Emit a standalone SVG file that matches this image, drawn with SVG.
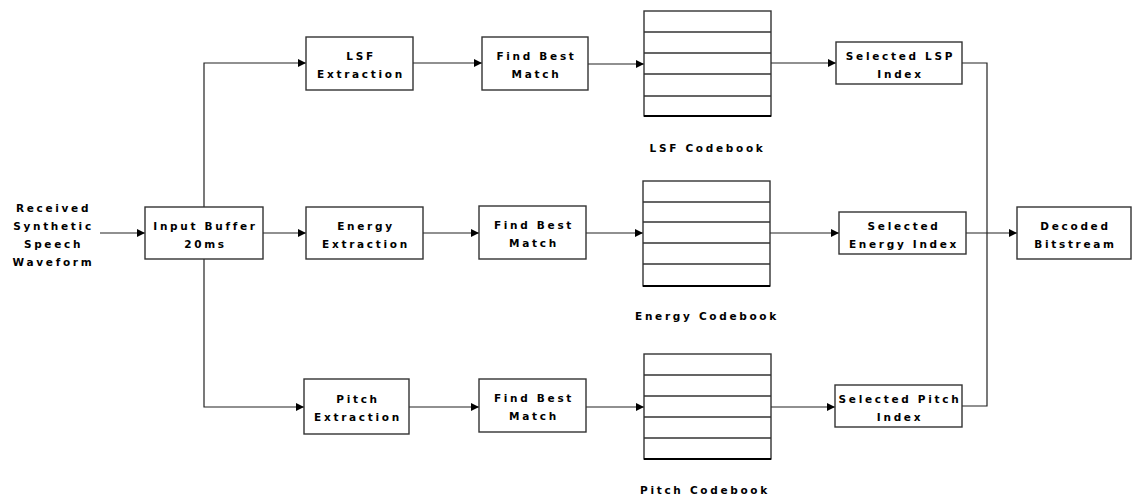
<svg xmlns="http://www.w3.org/2000/svg" width="1132" height="497" viewBox="0 0 1132 497">
<defs>
<marker id="ah" viewBox="0 0 10 10" refX="10" refY="5" markerWidth="9" markerHeight="8" markerUnits="userSpaceOnUse" orient="auto">
<path d="M0,0 L10,5 L0,10 Z" fill="#000"/>
</marker>
<style>
.box{fill:#fff;stroke:#333;stroke-width:1.4}
.cb{fill:#fff;stroke:#333;stroke-width:1.4}
.cbb{stroke:#000;stroke-width:2.2}
.row{stroke:#333;stroke-width:1.3}
.t{font-family:"DejaVu Sans",Verdana,sans-serif;font-weight:bold;font-size:10.5px;letter-spacing:2.7px;text-anchor:middle;fill:#000}
.c{fill:none;stroke:#222;stroke-width:1.2}
.a{marker-end:url(#ah)}
</style>
</defs>
<rect width="1132" height="497" fill="#fff"/>

<g id="connectors">
<path class="c a" d="M100,233 H145"/>
<path class="c a" d="M263,233 H306"/>
<path class="c a" d="M204,207 V63 H306"/>
<path class="c a" d="M204,259 V407 H304"/>
<path class="c a" d="M413,63 H482"/>
<path class="c a" d="M588,64 H644"/>
<path class="c a" d="M771,63 H836"/>
<path class="c a" d="M423,233 H479"/>
<path class="c a" d="M586,233 H643"/>
<path class="c a" d="M770,233 H839"/>
<path class="c a" d="M409,407 H479"/>
<path class="c a" d="M586,407 H644"/>
<path class="c a" d="M771,407 H835"/>
<path class="c" d="M962,63 H987 V406 H962"/>
<path class="c a" d="M966,233 H1017"/>
</g>

<g id="input-label">
<text class="t" x="53.5" y="212">Received</text>
<text class="t" x="53.5" y="230">Synthetic</text>
<text class="t" x="53.5" y="248">Speech</text>
<text class="t" x="53.5" y="266">Waveform</text>
</g>

<g id="input-buffer">
<rect class="box" x="145" y="207" width="118" height="52"/>
<text class="t" x="205.5" y="230">Input Buffer</text>
<text class="t" x="205.5" y="248">20ms</text>
</g>

<g id="lsf-extraction">
<rect class="box" x="306" y="37" width="107" height="53"/>
<text class="t" x="361" y="60">LSF</text>
<text class="t" x="361" y="78">Extraction</text>
</g>
<g id="lsf-match">
<rect class="box" x="482" y="37" width="106" height="53"/>
<text class="t" x="536.5" y="60">Find Best</text>
<text class="t" x="536.5" y="78">Match</text>
</g>
<g id="lsf-codebook">
<rect class="cb" x="644" y="11" width="127" height="105"/>
<path class="row" d="M644,32 H771 M644,53 H771 M644,74 H771 M644,96 H771"/>
<path class="cbb" d="M644,116 H771"/>
<text class="t" x="707.5" y="152">LSF Codebook</text>
</g>
<g id="lsp-index">
<rect class="box" x="836" y="42" width="126" height="42"/>
<text class="t" x="900.5" y="60">Selected LSP</text>
<text class="t" x="900.5" y="78">Index</text>
</g>

<g id="energy-extraction">
<rect class="box" x="306" y="207" width="117" height="52"/>
<text class="t" x="366" y="230">Energy</text>
<text class="t" x="366" y="248">Extraction</text>
</g>
<g id="energy-match">
<rect class="box" x="479" y="206" width="107" height="53"/>
<text class="t" x="534" y="229">Find Best</text>
<text class="t" x="534" y="247">Match</text>
</g>
<g id="energy-codebook">
<rect class="cb" x="643" y="181" width="127" height="105"/>
<path class="row" d="M643,202 H770 M643,222 H770 M643,243 H770 M643,264 H770"/>
<path class="cbb" d="M643,286 H770"/>
<text class="t" x="707" y="320">Energy Codebook</text>
</g>
<g id="energy-index">
<rect class="box" x="839" y="212" width="127" height="42"/>
<text class="t" x="904" y="230">Selected</text>
<text class="t" x="904" y="248">Energy Index</text>
</g>

<g id="pitch-extraction">
<rect class="box" x="304" y="379" width="105" height="55"/>
<text class="t" x="358" y="403">Pitch</text>
<text class="t" x="358" y="421">Extraction</text>
</g>
<g id="pitch-match">
<rect class="box" x="479" y="379" width="107" height="53"/>
<text class="t" x="534" y="402">Find Best</text>
<text class="t" x="534" y="420">Match</text>
</g>
<g id="pitch-codebook">
<rect class="cb" x="644" y="354" width="127" height="105"/>
<path class="row" d="M644,375 H771 M644,396 H771 M644,417 H771 M644,438 H771"/>
<path class="cbb" d="M644,459 H771"/>
<text class="t" x="705" y="494">Pitch Codebook</text>
</g>
<g id="pitch-index">
<rect class="box" x="835" y="385" width="127" height="42"/>
<text class="t" x="900" y="403">Selected Pitch</text>
<text class="t" x="900" y="421">Index</text>
</g>

<g id="decoded-bitstream">
<rect class="box" x="1017" y="207" width="114" height="52"/>
<text class="t" x="1075.5" y="230">Decoded</text>
<text class="t" x="1075.5" y="248">Bitstream</text>
</g>
</svg>
